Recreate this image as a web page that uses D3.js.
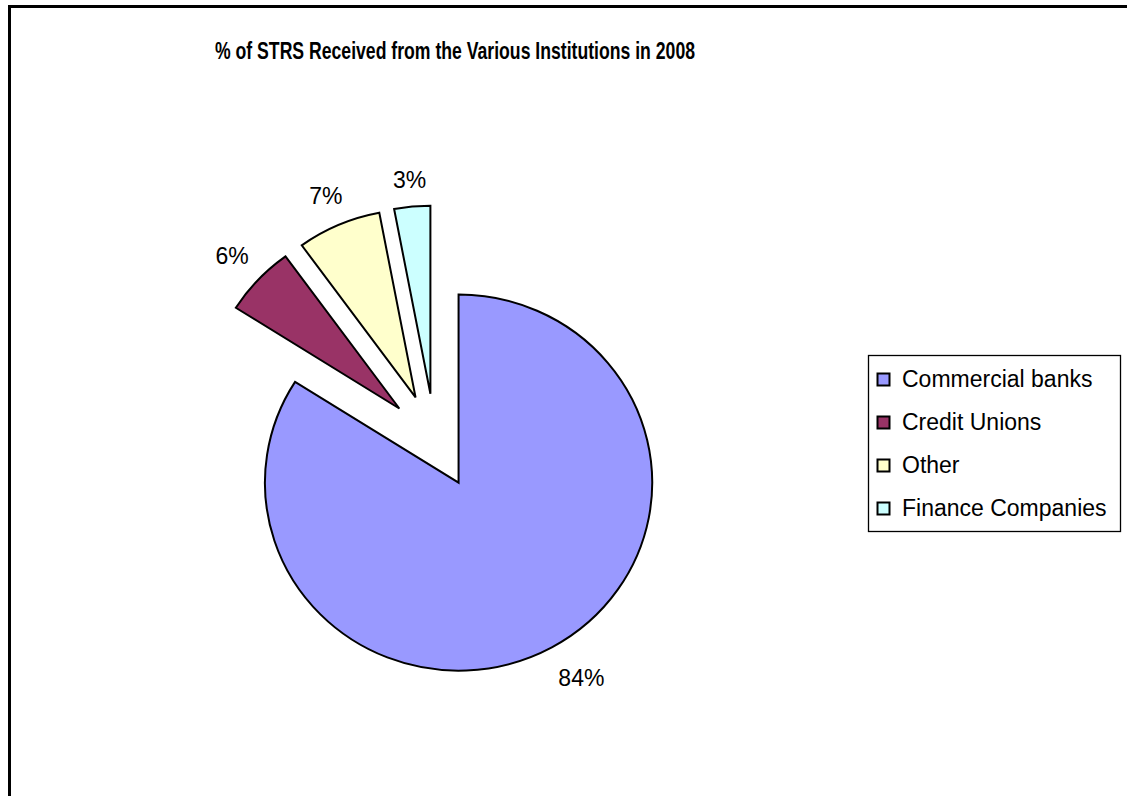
<!DOCTYPE html>
<html>
<head>
<meta charset="utf-8">
<script src="https://cdn.jsdelivr.net/npm/d3@7"></script>
<style>
  html, body { margin: 0; padding: 0; background: #fff; overflow: hidden; }
  svg { display: block; }
  text { font-family: "Liberation Sans", Arial, Helvetica, sans-serif; }
</style>
</head>
<body>
<svg id="chart" width="1127" height="796"></svg>
<script>
// Share of STRs by filing institution, 2008 (percent)
const categories = ["Commercial banks", "Credit Unions", "Other", "Finance Companies"];
const shares = [84, 6, 7, 3];
const sliceColors = ["#9999FF", "#993366", "#FFFFCC", "#CCFFFF"];
const chartTitle = "% of STRS Received from the Various Institutions in 2008";

const W = 1127, H = 796;
const svg = d3.select("#chart");

// chart frame: only the left and top edges fall inside the page
svg.append("path")
  .attr("d", `M9.5,${H} V6.5 H${W}`)
  .attr("fill", "none").attr("stroke", "#000").attr("stroke-width", 3);

// title
svg.append("text")
  .attr("x", 215).attr("y", 59)
  .attr("textLength", 480).attr("lengthAdjust", "spacingAndGlyphs")
  .style("font-family", '"Liberation Sans Narrow", "Liberation Sans", Arial, sans-serif')
  .style("font-weight", "bold").style("font-size", "24px")
  .text(chartTitle);

// pie geometry
const cx = 435, cy = 441;
const R = 188;          // outer radius
const explode = 47.5;   // distance every slice is pulled out along its bisector
const sx = 1.03;        // slight horizontal stretch of the plot area
const labelGap = 17;

const pie = d3.pie().sort(null).value(d => d.value).startAngle(0).endAngle(2 * Math.PI);
const data = pie(categories.map((c, i) => ({ name: c, value: shares[i], color: sliceColors[i] })));
const arc = d3.arc().innerRadius(0).outerRadius(R);

const g = svg.append("g").attr("transform", `translate(${cx},${cy}) scale(${sx},1)`);

g.selectAll("path.slice")
  .data(data)
  .join("path")
  .attr("class", "slice")
  .attr("transform", d => {
    const m = (d.startAngle + d.endAngle) / 2;
    return `translate(${Math.sin(m) * explode},${-Math.cos(m) * explode})`;
  })
  .attr("d", arc)
  .attr("fill", d => d.data.color)
  .attr("stroke", "#000")
  .attr("stroke-width", 2)
  .attr("vector-effect", "non-scaling-stroke");

// percentage labels outside each slice
svg.selectAll("text.pct")
  .data(data)
  .join("text")
  .attr("class", "pct")
  .style("font-size", "23px")
  .attr("text-anchor", "middle")
  .attr("dominant-baseline", "central")
  .text(d => d.data.value + "%")
  .each(function (d) {
    const bb = this.getBBox();
    const m = (d.startAngle + d.endAngle) / 2;
    const ux = Math.sin(m), uy = -Math.cos(m);
    const ext = Math.abs(ux) * bb.width / 2 + Math.abs(uy) * 16.5 / 2;
    const dist = explode + R + labelGap + ext;
    // labels on the lower half sit a little further to the right
    const nudge = uy > 0 ? 12 : 0;
    d3.select(this)
      .attr("x", cx + ux * dist * sx + nudge)
      .attr("y", cy + uy * dist);
  });

// legend
const lg = svg.append("g");
lg.append("rect")
  .attr("x", 868.5).attr("y", 355.5)
  .attr("width", 252).attr("height", 176)
  .attr("fill", "#fff").attr("stroke", "#000").attr("stroke-width", 1.3);

const rowY = d3.scalePoint().domain(categories).range([387, 516]);

const items = lg.selectAll("g.item")
  .data(data)
  .join("g")
  .attr("class", "item");

items.append("rect")
  .attr("x", 877.5)
  .attr("y", d => rowY(d.data.name) - 13.5)
  .attr("width", 12).attr("height", 12)
  .attr("fill", d => d.data.color)
  .attr("stroke", "#000").attr("stroke-width", 2);

items.append("text")
  .attr("x", 902)
  .attr("y", d => rowY(d.data.name))
  .style("font-size", "23px")
  .text(d => d.data.name);
</script>
</body>
</html>
